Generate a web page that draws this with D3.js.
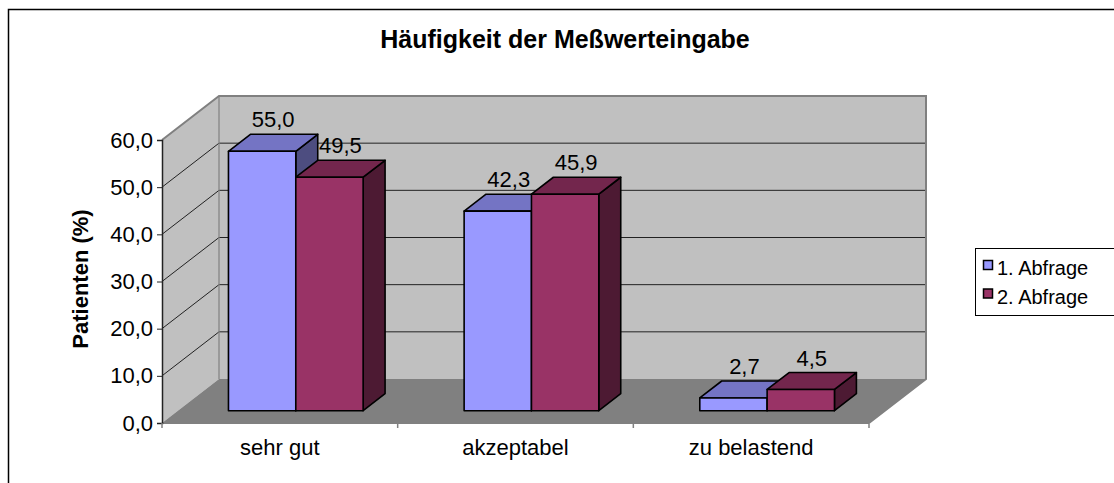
<!DOCTYPE html>
<html>
<head>
<meta charset="utf-8">
<script src="https://cdn.jsdelivr.net/npm/d3@7"></script>
<style>
  html, body { margin: 0; padding: 0; background: #fff; overflow: hidden; }
  svg { display: block; font-family: "Liberation Sans", Arial, sans-serif; }
</style>
</head>
<body>
<div id="chart"></div>
<script>
// data
var categories = ['sehr gut', 'akzeptabel', 'zu belastend'];
var seriesNames = ['1. Abfrage', '2. Abfrage'];
var abfrage1 = [55.0, 42.3, 2.7];
var abfrage2 = [49.5, 45.9, 4.5];
var yTicks = [0, 10, 20, 30, 40, 50, 60];

var W = 1114, H = 483;

// front plane of the 3d box + depth offset
var plot = { left: 162, right: 869, bottom: 423, top: 140 };
var depth = { dx: 57, dy: -44 };
var barZ0 = 0.28, barZ1 = 0.665;

var colors = [
  { front: '#9999FF', top: '#7474C4', side: '#4D4D80' },
  { front: '#993366', top: '#73264D', side: '#4D1A33' }
];

var svg = d3.select('#chart').append('svg')
  .attr('width', W).attr('height', H);

// outer chart border
svg.append('rect')
  .attr('x', 8.5).attr('y', 9.5).attr('width', 1200).attr('height', 600)
  .attr('fill', 'none').attr('stroke', '#000').attr('stroke-width', 1.5);

var y = d3.scaleLinear().domain([0, 60]).range([plot.bottom, plot.top]);
var x = d3.scaleBand().domain(categories).range([plot.left, plot.right]);
// gap width 150% -> outer padding 0.75 bar
var xs = d3.scaleBand().domain(seriesNames).range([0, x.bandwidth()]).paddingInner(0).paddingOuter(0.75);

function P(px, py, z) {
  return [px + depth.dx * z, py + depth.dy * z];
}
function poly(pts) { return pts.map(function (p) { return p.join(','); }).join(' '); }

var yMax = y.domain()[1];

// walls and floor
svg.append('polygon')
  .attr('points', poly([P(plot.left, y(0), 0), P(plot.left, y(yMax), 0), P(plot.left, y(yMax), 1), P(plot.left, y(0), 1)]))
  .attr('fill', '#C0C0C0');
svg.append('polygon')
  .attr('points', poly([P(plot.left, y(0), 1), P(plot.left, y(yMax), 1), P(plot.right, y(yMax), 1), P(plot.right, y(0), 1)]))
  .attr('fill', '#C0C0C0');
svg.append('polygon')
  .attr('points', poly([P(plot.left, y(0), 0), P(plot.right, y(0), 0), P(plot.right, y(0), 1), P(plot.left, y(0), 1)]))
  .attr('fill', '#808080');

// gridlines: side wall diagonal + back wall horizontal
var grid = svg.append('g');
yTicks.filter(function (t) { return t > 0 && t < yMax; }).forEach(function (t) {
  var a = P(plot.left, y(t), 0), b = P(plot.left, y(t), 1), c = P(plot.right, y(t), 1);
  grid.append('polyline').attr('points', poly([a, b, c]))
    .attr('fill', 'none').attr('stroke', '#222').attr('stroke-width', 1);
});

// wall edges
var edge = svg.append('g').attr('fill', 'none').attr('stroke', '#808080').attr('stroke-width', 2);
edge.append('polyline').attr('points', poly([P(plot.left, y(yMax), 0), P(plot.left, y(yMax), 1), P(plot.right, y(yMax), 1), P(plot.right, y(0), 1), P(plot.right, y(0), 0)]));
edge.append('line')
  .attr('x1', P(plot.left, y(0), 1)[0]).attr('y1', P(plot.left, y(0), 1)[1])
  .attr('x2', P(plot.left, y(yMax), 1)[0]).attr('y2', P(plot.left, y(yMax), 1)[1])
  .attr('stroke-width', 1.2);

// bars
var bars = svg.append('g').attr('stroke', '#000').attr('stroke-width', 1.6).attr('stroke-linejoin', 'round');
var labels = svg.append('g').attr('font-size', 22).attr('text-anchor', 'middle').attr('fill', '#000');
var seriesData = [abfrage1, abfrage2];

categories.forEach(function (cat, ci) {
  seriesNames.forEach(function (s, si) {
    var v = seriesData[si][ci];
    var x0 = x(cat) + xs(s), x1 = x0 + xs.bandwidth();
    var c = colors[si];
    var fTL = P(x0, y(v), barZ0), fTR = P(x1, y(v), barZ0),
        fBR = P(x1, y(0), barZ0), fBL = P(x0, y(0), barZ0),
        bTL = P(x0, y(v), barZ1), bTR = P(x1, y(v), barZ1), bBR = P(x1, y(0), barZ1);
    bars.append('polygon').attr('points', poly([fTR, bTR, bBR, fBR])).attr('fill', c.side);
    bars.append('polygon').attr('points', poly([fTL, bTL, bTR, fTR])).attr('fill', c.top);
    bars.append('polygon').attr('points', poly([fTL, fTR, fBR, fBL])).attr('fill', c.front);

    var lp = P((x0 + x1) / 2, y(v), (barZ0 + barZ1) / 2);
    labels.append('text')
      .attr('x', lp[0])
      .attr('y', P(0, y(v), barZ1)[1] - 7)
      .text(v.toFixed(1).replace('.', ','));
  });
});

// front floor edge (category axis line)
svg.append('line')
  .attr('x1', plot.left).attr('x2', plot.right)
  .attr('y1', y(0)).attr('y2', y(0))
  .attr('stroke', '#808080').attr('stroke-width', 2);

// y axis
var yAxis = d3.axisLeft(y).tickValues(yTicks).tickSize(5).tickPadding(4)
  .tickFormat(function (d) { return d.toFixed(1).replace('.', ','); });
var yG = svg.append('g').attr('transform', 'translate(' + plot.left + ',0)').call(yAxis)
  .attr('font-family', null).attr('font-size', 22);
yG.select('.domain').attr('stroke', '#222').attr('stroke-width', 1.5);
yG.selectAll('.tick line').attr('stroke', '#222');
yG.selectAll('.tick text').attr('fill', '#000');

// category axis
var xAxis = d3.axisBottom(x).tickSize(0).tickPadding(16);
var xG = svg.append('g').attr('transform', 'translate(0,' + y(0) + ')').call(xAxis)
  .attr('font-family', null).attr('font-size', 22);
xG.select('.domain').remove();
xG.selectAll('.tick text').attr('fill', '#000');
d3.range(categories.length + 1).forEach(function (i) {
  var bx = plot.left + i * x.step();
  svg.append('line').attr('x1', bx).attr('x2', bx)
    .attr('y1', y(0)).attr('y2', y(0) + 5)
    .attr('stroke', '#808080').attr('stroke-width', 1.5);
});

// title
svg.append('text')
  .attr('x', 565).attr('y', 48)
  .attr('text-anchor', 'middle').attr('font-size', 25).attr('font-weight', 'bold')
  .text('Häufigkeit der Meßwerteingabe');

// y title
svg.append('text')
  .attr('transform', 'translate(88,279) rotate(-90)')
  .attr('text-anchor', 'middle').attr('font-size', 22).attr('font-weight', 'bold')
  .text('Patienten (%)');

// legend
var legend = svg.append('g');
legend.append('rect')
  .attr('x', 975.5).attr('y', 248.5).attr('width', 200).attr('height', 67)
  .attr('fill', '#fff').attr('stroke', '#000').attr('stroke-width', 1);
seriesNames.forEach(function (s, i) {
  var ly = 260 + i * 28.5;
  legend.append('rect')
    .attr('x', 983.5).attr('y', ly + 0.5).attr('width', 9).attr('height', 9)
    .attr('fill', colors[i].front).attr('stroke', '#000').attr('stroke-width', 1.5);
  legend.append('text')
    .attr('x', 997).attr('y', ly + 15)
    .attr('font-size', 20)
    .text(s);
});
</script>
</body>
</html>
